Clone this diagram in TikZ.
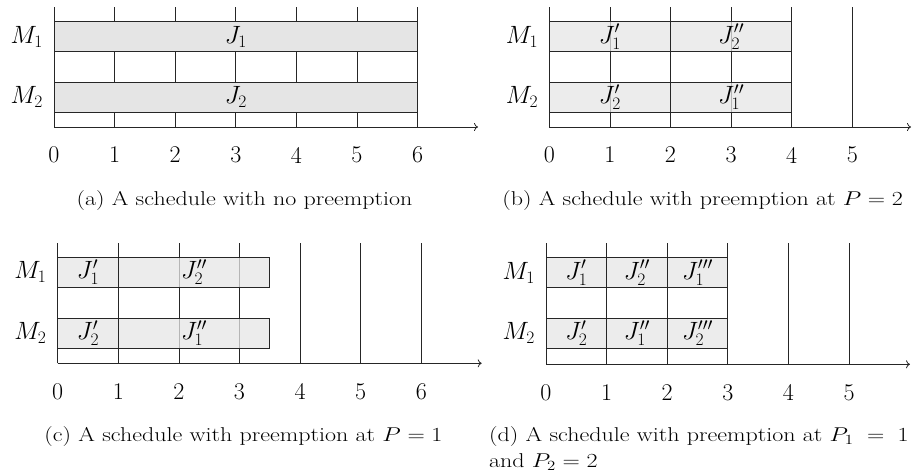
\RequirePackage{fix-cm}
\documentclass[tikz,border=0pt]{standalone}
\usetikzlibrary{arrows.meta}
\newcommand{\capwide}[1]{\scalebox{1.2}[1.0]{#1}}
\begin{document}
\begin{tikzpicture}[x=1pt,y=-1pt]
\tikzset{
  gridline/.style={line width=0.8pt, draw=black!85},
  bar/.style={draw=black!85, line width=0.8pt, fill=black!10},
  tbar/.style={bar, fill opacity=0.75},
  axisline/.style={line width=0.8pt, draw=black!85, -{To[length=4pt,width=8pt]}},
  lbl/.style={font=\fontsize{24}{28}\selectfont, inner sep=0pt},
  mlbl/.style={font=\fontsize{25}{29}\selectfont, inner sep=0pt, anchor=east},
  jlbl/.style={font=\fontsize{25}{29}\selectfont, inner sep=0pt},
  captext/.style={font=\fontsize{20}{24}\selectfont, inner sep=0pt},
}
\useasboundingbox (0,0) rectangle (916,472);
\def\u{60.6}
% ---------- (a)
\begin{scope}[shift={(54,127)}]
  \foreach \i in {0,...,6} \draw[gridline] (\i*\u,0) -- (\i*\u,-120);
  \draw[bar] (0,-105.3) rectangle (6*\u,-75.3);
  \draw[bar] (0,-44.7) rectangle (6*\u,-14.7);
  \draw[axisline] (0,0) -- (424,0);
  \node[jlbl] (aj1) at (3*\u,-90.3) {$J_1$};
  \node[jlbl] (aj2) at (3*\u,-29.7) {$J_2$};
  \node[mlbl] (am1) at (-11,-90.3) {$M_1$};
  \node[mlbl] (am2) at (-11,-29.7) {$M_2$};
  \foreach \i in {0,...,6} \node[lbl] (at\i) at (\i*\u,28) {\i};
\end{scope}
\node[captext, anchor=base] (capa) at (244.5,205) {\capwide{(a) A schedule with no preemption}};
% ---------- (b)
\begin{scope}[shift={(549.3,127)}]
  \foreach \i in {0,...,5} \draw[gridline] (\i*\u,0) -- (\i*\u,-120);
  \draw[tbar] (0,-105.3) rectangle (2*\u,-75.3);
  \draw[tbar] (2*\u,-105.3) rectangle (4*\u,-75.3);
  \draw[tbar] (0,-44.7) rectangle (2*\u,-14.7);
  \draw[tbar] (2*\u,-44.7) rectangle (4*\u,-14.7);
  \draw[axisline] (0,0) -- (361.7,0);
  \node[jlbl] (bj1) at (1*\u,-90.3) {$J'_1$};
  \node[jlbl] (bj2) at (3*\u,-90.3) {$J''_2$};
  \node[jlbl] (bj3) at (1*\u,-29.7) {$J'_2$};
  \node[jlbl] (bj4) at (3*\u,-29.7) {$J''_1$};
  \node[mlbl] (bm1) at (-11,-90.3) {$M_1$};
  \node[mlbl] (bm2) at (-11,-29.7) {$M_2$};
  \foreach \i in {0,...,5} \node[lbl] (bt\i) at (\i*\u,28) {\i};
\end{scope}
\node[captext, anchor=base east] (capb) at (903,205) {\capwide{(b) A schedule with preemption at $P=2$}};
% ---------- (c)
\begin{scope}[shift={(57.7,363.3)}]
  \foreach \i in {0,...,6} \draw[gridline] (\i*\u,0) -- (\i*\u,-120.6);
  \draw[tbar] (0,-106) rectangle (1*\u,-76);
  \draw[tbar] (1*\u,-106) rectangle (3.5*\u,-76);
  \draw[tbar] (0,-45) rectangle (1*\u,-15);
  \draw[tbar] (1*\u,-45) rectangle (3.5*\u,-15);
  \draw[axisline] (0,0) -- (424,0);
  \node[jlbl] (cj1) at (0.5*\u,-91) {$J'_1$};
  \node[jlbl] (cj2) at (2.25*\u,-91) {$J''_2$};
  \node[jlbl] (cj3) at (0.5*\u,-30) {$J'_2$};
  \node[jlbl] (cj4) at (2.25*\u,-30) {$J''_1$};
  \node[mlbl] (cm1) at (-11,-91) {$M_1$};
  \node[mlbl] (cm2) at (-11,-30) {$M_2$};
  \foreach \i in {0,...,6} \node[lbl] (ct\i) at (\i*\u,28) {\i};
\end{scope}
\node[captext, anchor=base] (capc) at (243.5,441) {\capwide{(c) A schedule with preemption at $P=1$}};
% ---------- (d)
\begin{scope}[shift={(546,364.3)}]
  \foreach \i in {0,...,5} \draw[gridline] (\i*\u,0) -- (\i*\u,-121.6);
  \foreach \k in {0,1,2} {
    \draw[tbar] (\k*\u,-106.6) rectangle (\k*\u+\u,-76.6);
    \draw[tbar] (\k*\u,-46) rectangle (\k*\u+\u,-16);
  }
  \draw[axisline] (0,0) -- (364,0);
  \node[jlbl] (dj1) at (0.5*\u,-91.6) {$J'_1$};
  \node[jlbl] (dj2) at (1.5*\u,-91.6) {$J''_2$};
  \node[jlbl] (dj3) at (2.5*\u,-91.6) {$J'''_1$};
  \node[jlbl] (dj4) at (0.5*\u,-31) {$J'_2$};
  \node[jlbl] (dj5) at (1.5*\u,-31) {$J''_1$};
  \node[jlbl] (dj6) at (2.5*\u,-31) {$J'''_2$};
  \node[mlbl] (dm1) at (-11,-91.6) {$M_1$};
  \node[mlbl] (dm2) at (-11,-31) {$M_2$};
  \foreach \i in {0,...,5} \node[lbl] (dt\i) at (\i*\u,28) {\i};
\end{scope}
\node[captext, anchor=base west] (capd1) at (489,441) {\capwide{(d) A schedule with preemption at $P_1\;=\;1$}};
\node[captext, anchor=base west] (capd2) at (489,467) {\capwide{and $P_2=2$}};
\end{tikzpicture}
\end{document}
